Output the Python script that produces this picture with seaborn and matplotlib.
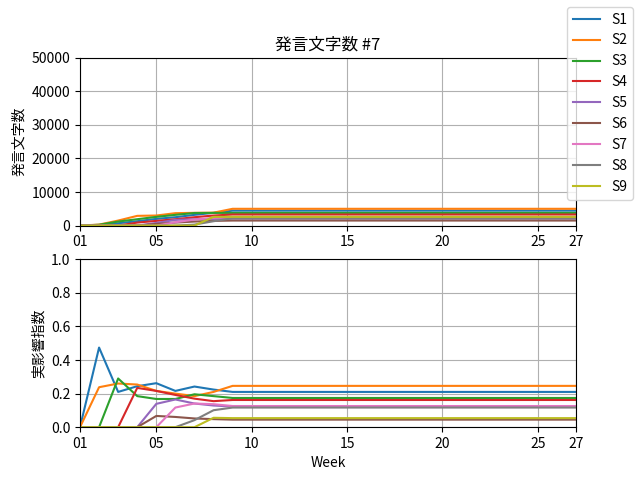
import numpy as np
import pandas as pd
import seaborn as sb
from matplotlib import pyplot as plt

plt.rcParams["font.family"] = ["Noto Sans CJK JP", "DejaVu Sans"]

# * weeks 01..27, values stay flat after week 09
weeks = list(range(1, 28))
series_names = ["S1", "S2", "S3", "S4", "S5", "S6", "S7", "S8", "S9"]
tick_weeks = [1, 5, 10, 15, 20, 25, 27]
tick_labels = ["01", "05", "10", "15", "20", "25", "27"]

chars_head = {
    "S1": [0, 150, 700, 1300, 2000, 2500, 3200, 3800, 4450],
    "S2": [0, 300, 1500, 2900, 3000, 3700, 3800, 3850, 5000],
    "S3": [0, 250, 1200, 1900, 2600, 3200, 3750, 3780, 3780],
    "S4": [0, 0, 0, 900, 1400, 1900, 2500, 3000, 3300],
    "S5": [0, 0, 0, 0, 800, 1700, 1900, 2000, 2100],
    "S6": [0, 0, 0, 0, 500, 900, 1200, 1400, 1500],
    "S7": [0, 0, 0, 0, 0, 1000, 1800, 2300, 2500],
    "S8": [0, 0, 0, 0, 0, 0, 300, 1300, 2200],
    "S9": [0, 0, 0, 0, 0, 0, 0, 2600, 2600],
}

index_head = {
    "S1": [0.0, 0.474, 0.21, 0.244, 0.262, 0.216, 0.242, 0.224, 0.21],
    "S2": [0.0, 0.238, 0.26, 0.254, 0.216, 0.20, 0.185, 0.21, 0.246],
    "S3": [0.0, 0.0, 0.29, 0.185, 0.168, 0.168, 0.196, 0.185, 0.174],
    "S4": [0.0, 0.0, 0.0, 0.234, 0.216, 0.192, 0.17, 0.155, 0.162],
    "S5": [0.0, 0.0, 0.0, 0.0, 0.139, 0.165, 0.141, 0.129, 0.123],
    "S6": [0.0, 0.0, 0.0, 0.0, 0.067, 0.061, 0.052, 0.048, 0.045],
    "S7": [0.0, 0.0, 0.0, 0.0, 0.0, 0.117, 0.141, 0.137, 0.126],
    "S8": [0.0, 0.0, 0.0, 0.0, 0.0, 0.0, 0.042, 0.101, 0.117],
    "S9": [0.0, 0.0, 0.0, 0.0, 0.0, 0.0, 0.0, 0.056, 0.054],
}


def to_long(head: dict) -> pd.DataFrame:
    rows = []
    for name in series_names:
        vals = head[name] + [head[name][-1]] * (len(weeks) - len(head[name]))
        rows += [{"week": w, "value": v, "series": name} for w, v in zip(weeks, vals)]
    return pd.DataFrame(rows)


df_chars = to_long(chars_head)
df_index = to_long(index_head)

fig, (ax1, ax2) = plt.subplots(2, 1, figsize=(6.4, 4.8), dpi=100)

sb.lineplot(data=df_chars, x="week", y="value", hue="series", palette="tab10", ax=ax1)
sb.lineplot(data=df_index, x="week", y="value", hue="series", palette="tab10", ax=ax2)

ax1.set_ylim(0, 50000)
ax1.set_ylabel("発言文字数")
ax1.set_xlabel("")
ax1.set_title("発言文字数 #7")

ax2.set_ylim(0, 1.0)
ax2.set_ylabel("実影響指数")
ax2.set_xlabel("Week")

for ax in (ax1, ax2):
    ax.set_xlim(1, 27)
    ax.set_xticks(tick_weeks)
    ax.set_xticklabels(tick_labels)
    ax.grid(True)

# * one shared legend on the figure
handles, labels = ax1.get_legend_handles_labels()
ax1.get_legend().remove()
ax2.get_legend().remove()
fig.legend(handles, labels, loc="upper right")

plt.savefig("out.png")
plt.close()
